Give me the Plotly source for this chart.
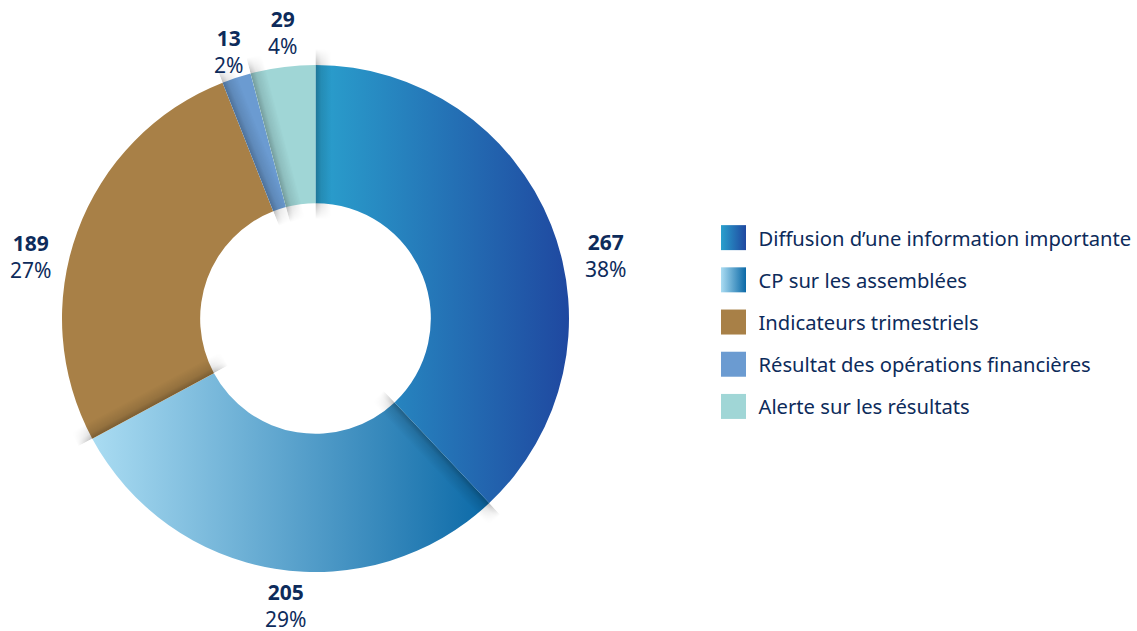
import json
import plotly.graph_objects as go

# ---- data -------------------------------------------------------------
categories = [
    "Diffusion d’une information importante",
    "CP sur les assemblées",
    "Indicateurs trimestriels",
    "Résultat des opérations financières",
    "Alerte sur les résultats",
]
counts = [267, 205, 189, 13, 29]

# ---- styling ----------------------------------------------------------
slice_colors = ["#2670b4", "#5aa8d6", "#a88047", "#6b9bd1", "#a0d6d6"]
# left -> right gradient for the two blue slices (None = flat colour)
slice_gradients = [("#2aa0cd", "#1f48a0"), ("#aadcf2", "#0b69a7"), None, None, None]
# centre of each value label, in pixels from the top-left corner
label_px = [(605, 255), (285, 605), (30, 256), (228, 52), (282, 32)]

W, H = 1137, 631
NAVY = "#0d2b5b"
FONT = "Noto Sans"
HOLE = 0.455
LEGEND_STEP = 42.2

total = sum(counts)
percents = [round(100 * v / total) for v in counts]

fig = go.Figure(
    go.Pie(
        labels=categories,
        values=counts,
        sort=False,
        direction="clockwise",
        rotation=0,
        hole=HOLE,
        marker=dict(colors=slice_colors, line=dict(width=0)),
        textinfo="none",
        hoverinfo="none",
        domain=dict(x=[62 / W, 569 / W], y=[59 / H, 566 / H]),
    )
)

annotations = []
for v, p, (px, py) in zip(counts, percents, label_px):
    annotations.append(
        dict(
            text=f"<b>{v}</b><br>{p}%",
            x=px / W, y=1 - py / H, xref="paper", yref="paper",
            xanchor="center", yanchor="middle", showarrow=False,
            font=dict(family=FONT, size=21, color=NAVY),
        )
    )

fig.update_layout(
    width=W, height=H,
    margin=dict(l=0, r=0, t=0, b=0, autoexpand=False),
    paper_bgcolor="white", plot_bgcolor="white",
    font=dict(family=FONT, color=NAVY),
    annotations=annotations,
    showlegend=True,
    legend=dict(
        x=718.5 / W, y=1 - 218 / H, xanchor="left", yanchor="top",
        font=dict(family=FONT, size=20.2, color=NAVY),
        bgcolor="rgba(0,0,0,0)", borderwidth=0,
    ),
)

# Gradient fills, larger legend swatches, legend spacing and the soft
# fold shadows along the start edge of every slice.
post_js = """
var gd = document.getElementById('{plot_id}');
var GRADS = %s;
var HOLE = %s;
var STEP = %s;
var NS = 'http://www.w3.org/2000/svg';
function el(tag, attrs, parent) {
  var e = document.createElementNS(NS, tag);
  for (var k in attrs) e.setAttribute(k, attrs[k]);
  if (parent) parent.appendChild(e);
  return e;
}
function decorate() {
  var svg = gd.querySelector('svg.main-svg');
  var defs = svg.querySelector('defs') || el('defs', {}, svg);
  GRADS.forEach(function (g, i) {
    if (!g) return;
    var lg = el('linearGradient', {id: 'slicegrad' + i, x1: 0, y1: 0, x2: 1, y2: 0}, defs);
    el('stop', {offset: 0, 'stop-color': g[0]}, lg);
    el('stop', {offset: 1, 'stop-color': g[1]}, lg);
  });
  gd.querySelectorAll('g.pielayer g.slice path.surface').forEach(function (p, i) {
    if (GRADS[i]) p.style.fill = 'url(#slicegrad' + i + ')';
  });
  gd.querySelectorAll('g.legend path.legendpie').forEach(function (p, i) {
    p.setAttribute('d', 'M12.5,12.5H-12.5V-12.5H12.5Z');
    p.setAttribute('transform', 'translate(15,0)');
    if (GRADS[i]) p.style.fill = 'url(#slicegrad' + i + ')';
  });
  var y0 = null;
  gd.querySelectorAll('g.legend g.traces').forEach(function (it, i) {
    var m = /translate\\(([-\\d.e]+)[ ,]+([-\\d.e]+)\\)/.exec(it.getAttribute('transform') || '');
    if (!m) return;
    if (y0 === null) y0 = parseFloat(m[2]);
    it.setAttribute('transform', 'translate(' + m[1] + ',' + (y0 + i * STEP) + ')');
  });
  var sb = gd.querySelector('g.legend g.scrollbox');
  if (sb) sb.removeAttribute('clip-path');

  // shadows
  var cd = gd.calcdata[0];
  var cx = cd[0].cx, cy = cd[0].cy, R = cd[0].r, rin = R * HOLE;
  var EXT = 16, SW = 16;
  var hg = el('linearGradient', {id: 'shadeH', x1: 0, y1: 0, x2: 1, y2: 0}, defs);
  el('stop', {offset: 0, 'stop-color': '#000', 'stop-opacity': 0.34}, hg);
  el('stop', {offset: 0.35, 'stop-color': '#000', 'stop-opacity': 0.14}, hg);
  el('stop', {offset: 1, 'stop-color': '#000', 'stop-opacity': 0}, hg);
  var len = R - rin + 2 * EXT, f = EXT / len;
  var vg = el('linearGradient', {id: 'shadeV', x1: 0, y1: 0, x2: 0, y2: 1}, defs);
  el('stop', {offset: 0, 'stop-color': '#fff', 'stop-opacity': 0}, vg);
  el('stop', {offset: f, 'stop-color': '#fff', 'stop-opacity': 0.8}, vg);
  el('stop', {offset: 1 - f, 'stop-color': '#fff', 'stop-opacity': 0.8}, vg);
  el('stop', {offset: 1, 'stop-color': '#fff', 'stop-opacity': 0}, vg);
  var mk = el('mask', {id: 'shadeMask', maskContentUnits: 'objectBoundingBox'}, defs);
  el('rect', {x: 0, y: 0, width: 1, height: 1, fill: 'url(#shadeV)'}, mk);
  var layer = gd.querySelector('g.pielayer');
  var sg = el('g', {'class': 'slice-shadows', 'pointer-events': 'none'}, layer);
  cd.forEach(function (pt) {
    if (!pt.px0) return;
    var a = Math.atan2(pt.px0[0], -pt.px0[1]) * 180 / Math.PI;
    var g = el('g', {transform: 'translate(' + cx + ',' + cy + ') rotate(' + a + ')'}, sg);
    el('rect', {x: 0, y: -(R + EXT), width: SW, height: len,
                fill: 'url(#shadeH)', mask: 'url(#shadeMask)'}, g);
  });
}
decorate();
""" % (json.dumps(slice_gradients), json.dumps(HOLE), json.dumps(LEGEND_STEP))

fig.write_html("out.html", post_script=post_js, config={"displayModeBar": False})
